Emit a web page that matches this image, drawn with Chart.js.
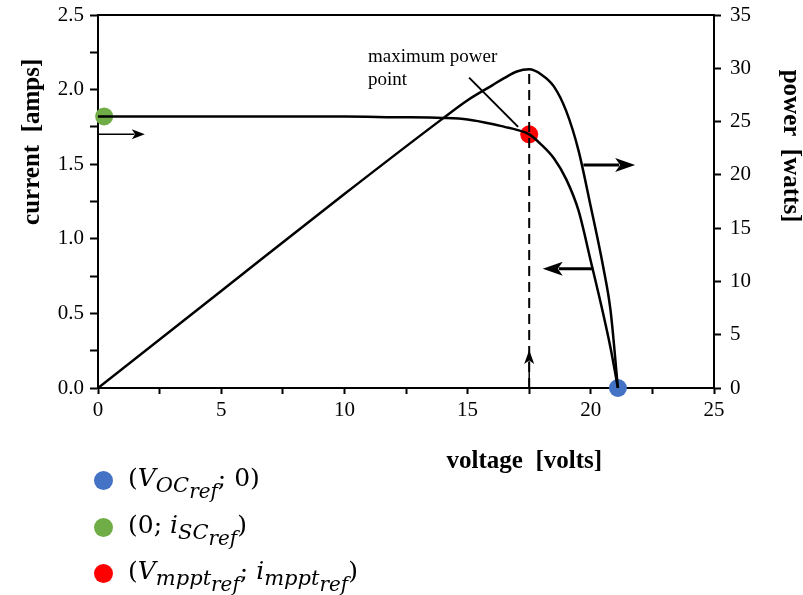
<!DOCTYPE html>
<html>
<head>
<meta charset="utf-8">
<script src="https://cdn.jsdelivr.net/npm/chart.js@4.4.0/dist/chart.umd.min.js"></script>
<style>
  body { margin: 0; background: #fff; }
  #wrap { position: relative; width: 803px; height: 595px; }
  #chart { position: absolute; left: 0; top: 0; }
  .leg { position: absolute; left: 0; font-family: "DejaVu Serif", "Liberation Serif", serif; font-size: 25px; color: #000; }
  .leg .dot { position: absolute; left: 94px; width: 19px; height: 19px; border-radius: 50%; }
  .leg .txt { position: absolute; left: 128px; white-space: nowrap; line-height: 30px; }
  .leg i { font-style: italic; }
  .leg sub { font-size: 84%; vertical-align: -0.3em; line-height: 0; }
  .leg sub sub { font-size: 95%; }
</style>
</head>
<body>
<div id="wrap">
  <canvas id="chart" width="803" height="595"></canvas>
  <div class="leg" style="top:471px"><div class="dot" style="top:0;background:#4472c4"></div><div class="txt" style="top:-8px">(<i>V</i><sub><i>OC</i><sub><i>ref</i></sub></sub>; 0)</div></div>
  <div class="leg" style="top:518px"><div class="dot" style="top:0;background:#70ad47"></div><div class="txt" style="top:-8px">(0; <i>i</i><sub><i>SC</i><sub><i>ref</i></sub></sub>)</div></div>
  <div class="leg" style="top:564px"><div class="dot" style="top:0;background:#ff0000"></div><div class="txt" style="top:-8px">(<i>V</i><sub><i>mppt</i><sub><i>ref</i></sub></sub>; <i>i</i><sub><i>mppt</i><sub><i>ref</i></sub></sub>)</div></div>
</div>
<script>
// Dữ liệu ----------------------------------------------------------------
// đường dòng điện (I-V)
const voltsI = [0, 2, 4, 6, 8, 10, 12, 14, 15, 16, 16.5, 17, 17.5, 18, 18.5, 19, 19.5, 20, 20.5, 20.8, 21.1];
const amps   = [1.82, 1.82, 1.82, 1.82, 1.82, 1.82, 1.815, 1.81, 1.80, 1.77, 1.75, 1.73, 1.70, 1.63, 1.54, 1.40, 1.19, 0.85, 0.50, 0.27, 0];

// đường công suất (P-V)
const voltsP = [0, 5, 10, 14, 15, 16, 16.5, 17, 17.5, 18, 18.5, 19, 19.5, 20, 20.5, 20.8, 21.1];
const watts  = [0, 9.1, 18.2, 25.3, 27.0, 28.4, 29.1, 29.7, 29.9, 29.4, 28.3, 26.0, 22.3, 17.0, 11.4, 7.3, 0];

// các điểm đặc biệt
const vmpp = 17.5, impp = 1.70, pmpp = 29.9;
const isc = 1.82, voc = 21.1;

// đường chỉ tới điểm MPP và nhãn
const leaderV = [15.06, 17.05];
const leaderI = [2.08, 1.75];
const noteLines = ["maximum power", "point"];
const noteV = 10.96;
const noteI = [2.218, 2.064];

// mũi tên (tọa độ theo V / I)
const arrowFrom = [[0, 1.70], [19.7, 1.495], [20.1, 0.80], [17.5, 0]];
const arrowTo   = [[1.9, 1.70], [21.8, 1.495], [18.05, 0.80], [17.5, 0.255]];

// tiêu đề trục
const xTitle = "voltage  [volts]";
const xTitleAt = 17.3;
const yTitle = "current  [amps]";
const yTitleAt = 1.65;
const y2Title = "power  [watts]";
const y2TitleAt = 22.7;

const serif = "'Liberation Serif', 'DejaVu Serif', serif";

function pairs(xs, ys) {
  return xs.map((x, i) => ({ x: x, y: ys[i] }));
}

// vẽ mũi tên, nhãn, tiêu đề các trục
const extrasPlugin = {
  id: "extras",
  afterDatasetsDraw(chart) {
    const ctx = chart.ctx;
    const xs = chart.scales.x, ys = chart.scales.y, ys2 = chart.scales.y2;
    const widths = [1.5, 3, 3, 1.5];
    const heads = [[13, 5], [20, 7], [20, 7], [14, 5]];
    ctx.save();
    ctx.strokeStyle = "#000";
    ctx.fillStyle = "#000";
    arrowFrom.forEach((f, i) => {
      const x1 = xs.getPixelForValue(f[0]), y1 = ys.getPixelForValue(f[1]);
      const x2 = xs.getPixelForValue(arrowTo[i][0]), y2 = ys.getPixelForValue(arrowTo[i][1]);
      const a = Math.atan2(y2 - y1, x2 - x1);
      const L = heads[i][0], W = heads[i][1];
      ctx.lineWidth = widths[i];
      ctx.beginPath();
      ctx.moveTo(x1, y1);
      ctx.lineTo(x2 - L * 0.8 * Math.cos(a), y2 - L * 0.8 * Math.sin(a));
      ctx.stroke();
      ctx.beginPath();
      ctx.moveTo(x2, y2);
      ctx.lineTo(x2 - L * Math.cos(a) + W * Math.sin(a), y2 - L * Math.sin(a) - W * Math.cos(a));
      ctx.lineTo(x2 - L * 0.75 * Math.cos(a), y2 - L * 0.75 * Math.sin(a));
      ctx.lineTo(x2 - L * Math.cos(a) - W * Math.sin(a), y2 - L * Math.sin(a) + W * Math.cos(a));
      ctx.closePath();
      ctx.fill();
    });

    ctx.font = "19px " + serif;
    ctx.textAlign = "left";
    ctx.textBaseline = "middle";
    noteLines.forEach((t, i) => {
      ctx.fillText(t, xs.getPixelForValue(noteV), ys.getPixelForValue(noteI[i]));
    });

    ctx.font = "bold 25px " + serif;
    ctx.textAlign = "center";
    ctx.fillText(xTitle, xs.getPixelForValue(xTitleAt), chart.chartArea.bottom + 74);

    ctx.save();
    ctx.translate(ys.left + 33, ys.getPixelForValue(yTitleAt));
    ctx.rotate(-Math.PI / 2);
    ctx.fillText(yTitle, 0, 0);
    ctx.restore();

    ctx.save();
    ctx.translate(ys2.right - 13, ys2.getPixelForValue(y2TitleAt));
    ctx.rotate(Math.PI / 2);
    ctx.fillText(y2Title, 0, 0);
    ctx.restore();
    ctx.restore();
  }
};

const tickFont = { family: serif, size: 21 };

// bỏ phần đệm do nhãn tick tràn ra, để khung vẽ nằm đúng chỗ
function noPad(s) {
  s.paddingTop = 0;
  s.paddingBottom = 0;
  s.paddingLeft = 0;
  s.paddingRight = 0;
}

new Chart(document.getElementById("chart"), {
  type: "scatter",
  data: {
    datasets: [
      {
        label: "current",
        data: pairs(voltsI, amps),
        showLine: true,
        borderColor: "#000",
        borderWidth: 2.5,
        pointRadius: 0,
        cubicInterpolationMode: "monotone",
        yAxisID: "y"
      },
      {
        label: "power",
        data: pairs(voltsP, watts),
        showLine: true,
        borderColor: "#000",
        borderWidth: 2.5,
        pointRadius: 0,
        cubicInterpolationMode: "monotone",
        yAxisID: "y2"
      },
      {
        label: "mpp dashed",
        data: [{ x: vmpp, y: 0 }, { x: vmpp, y: pmpp }],
        showLine: true,
        borderColor: "#000",
        borderWidth: 2,
        borderDash: [10, 6],
        pointRadius: 0,
        yAxisID: "y2"
      },
      {
        label: "leader",
        data: pairs(leaderV, leaderI),
        showLine: true,
        borderColor: "#000",
        borderWidth: 2,
        pointRadius: 0,
        yAxisID: "y"
      },
      {
        label: "points",
        data: [{ x: voc, y: 0 }, { x: 0.25, y: isc }, { x: vmpp, y: impp }],
        pointRadius: 9,
        pointHoverRadius: 9,
        pointBackgroundColor: ["#4472c4", "#70ad47", "#ff0000"],
        pointBorderWidth: 0,
        clip: false,
        yAxisID: "y"
      }
    ]
  },
  options: {
    responsive: false,
    animation: false,
    layout: { padding: 0 },
    plugins: { legend: { display: false }, tooltip: { enabled: false } },
    scales: {
      x: {
        type: "linear",
        position: "bottom",
        min: 0, max: 25,
        ticks: {
          stepSize: 2.5,
          font: tickFont,
          color: "#000",
          padding: 4,
          maxRotation: 0,
          callback: v => (v % 5 === 0 ? String(v) : "")
        },
        grid: { drawOnChartArea: false, tickLength: 6, color: "#000", tickWidth: 2 },
        border: { color: "#000", width: 2 },
        afterFit: s => { noPad(s); s.height = 595 - 388; }
      },
      xTop: {
        type: "linear",
        position: "top",
        min: 0, max: 25,
        ticks: { display: false },
        grid: { drawOnChartArea: false, drawTicks: false },
        border: { color: "#000", width: 2 },
        afterFit: s => { noPad(s); s.height = 15; }
      },
      y: {
        position: "left",
        min: 0, max: 2.5,
        ticks: {
          stepSize: 0.25,
          font: tickFont,
          color: "#000",
          padding: 6,
          callback: v => (Math.round(v * 100) % 50 === 0 ? v.toFixed(1) : "")
        },
        grid: { drawOnChartArea: false, tickLength: 8, color: "#000", tickWidth: 2 },
        border: { color: "#000", width: 2 },
        afterFit: s => { noPad(s); s.width = 98; }
      },
      y2: {
        position: "right",
        min: 0, max: 35,
        ticks: {
          stepSize: 2.5,
          font: tickFont,
          color: "#000",
          padding: 9,
          callback: v => (v % 5 === 0 ? String(v) : "")
        },
        grid: { drawOnChartArea: false, tickLength: 7, color: "#000", tickWidth: 2 },
        border: { color: "#000", width: 2 },
        afterFit: s => { noPad(s); s.width = 803 - 714; }
      }
    }
  },
  plugins: [extrasPlugin]
});
</script>
</body>
</html>
